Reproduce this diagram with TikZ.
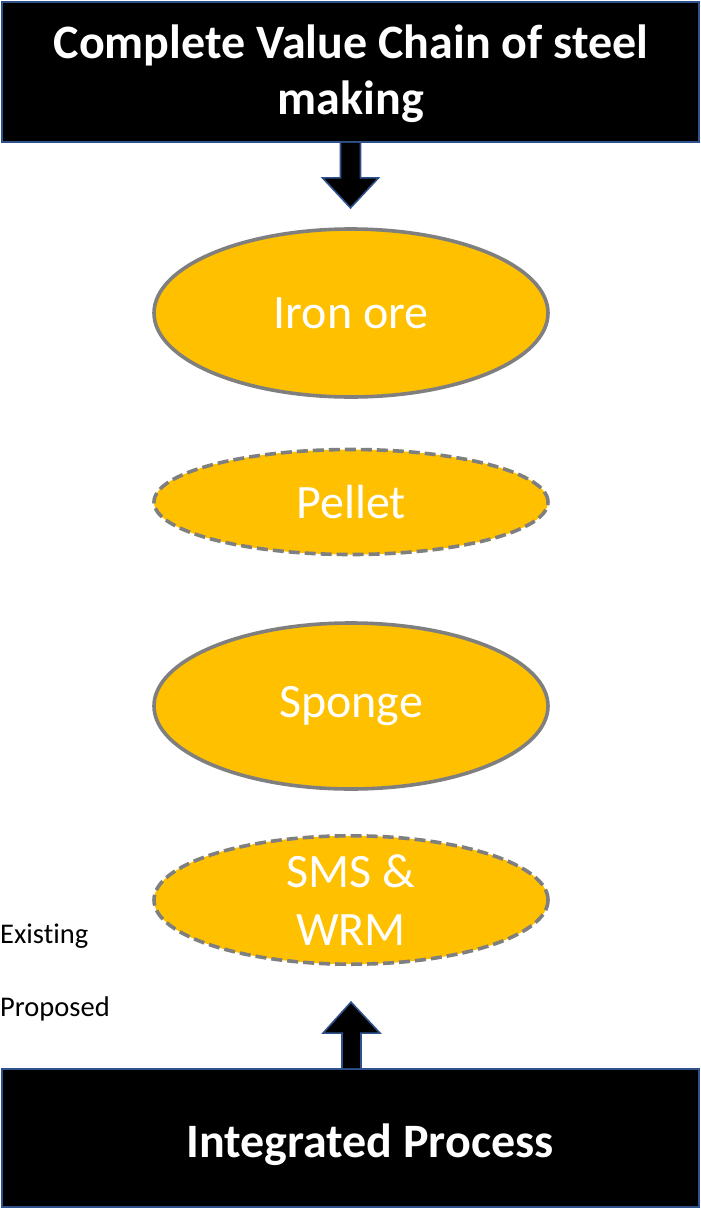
\documentclass[tikz,border=0pt]{standalone}
\usepackage{fontspec}
\setmainfont{Carlito}[Ligatures={NoCommon}]
\usetikzlibrary{shapes.geometric,calc}
\definecolor{boxblue}{HTML}{2F528F}
\definecolor{gold}{HTML}{FFC000}
\definecolor{rimgray}{HTML}{7F7F7F}
\tikzset{
  blackbox/.style={draw=boxblue,line width=1.8pt,fill=black,inner sep=0pt},
  boxtext/.style={text=white,font=\fontsize{48}{56}\selectfont\bfseries,align=center,inner sep=0pt},
  oval/.style={ellipse,fill=gold,draw=rimgray,line width=3.6pt,text=white,font=\fontsize{48}{58}\selectfont,align=center,inner sep=0pt,minimum width=394pt},
  dashedoval/.style={oval,dash pattern=on 11pt off 5pt},
  legend/.style={anchor=west,font=\fontsize{28.5}{34}\selectfont,inner sep=0pt},
  blockarrow/.style={fill=black,draw=boxblue,line width=1.6pt,line join=miter}
}
\begin{document}
\begin{tikzpicture}[x=1pt,y=-1pt]
\useasboundingbox (0,0) rectangle (701,1210);
\node[blackbox,minimum width=697pt,minimum height=140pt] (top) at (350.5,72) {};
\node[boxtext] (toptext) at (351,74) {Complete Value Chain of steel\\making};
\node[oval,minimum height=168pt] (iron) at (351,313) {Iron ore};
\node[dashedoval,minimum height=105pt] (pellet) at (351,502) {Pellet};
\node[oval,minimum height=166pt] (sponge) at (351,706) {Sponge};
\node[dashedoval,minimum height=108pt] (sms) at (351,900) {SMS \&\\WRM};
\node[blackbox,minimum width=697pt,minimum height=138pt] (bottom) at (350.5,1138) {};
\node[boxtext] (bottomtext) at (370,1145) {Integrated Process};
\node[legend] (existing) at (0,936) {Existing};
\node[legend] (proposed) at (0,1009) {Proposed};
% top block arrow
\draw[blockarrow] ($(top.south)+(-10,0)$) -- ++(0,35) -- ++(-18,0) -- ($(top.south)+(0,65)$) -- ($(top.south)+(28,35)$) -- ++(-18,0) -- ($(top.south)+(10,0)$);
% bottom block arrow
\draw[blockarrow] ($(bottom.north)+(-8.5,0)$) -- ++(0,-35) -- ++(-19,0) -- ($(bottom.north)+(0.5,-66)$) -- ($(bottom.north)+(29.5,-35)$) -- ++(-19,0) -- ($(bottom.north)+(10.5,0)$);
\end{tikzpicture}
\end{document}
